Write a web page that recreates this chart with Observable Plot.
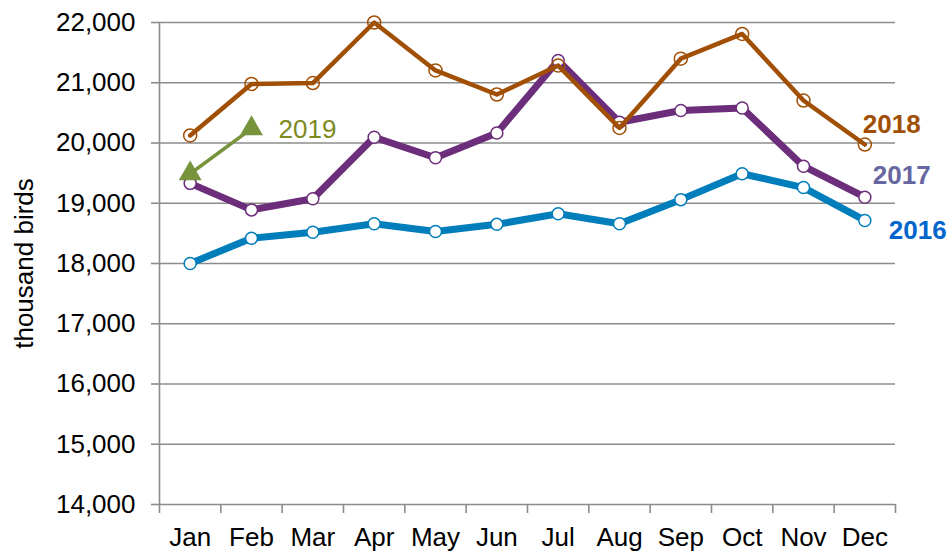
<!DOCTYPE html>
<html>
<head>
<meta charset="utf-8">
<script src="https://cdn.jsdelivr.net/npm/d3@7"></script>
<script src="https://cdn.jsdelivr.net/npm/@observablehq/plot@0.6"></script>
<style>
  html, body { margin: 0; padding: 0; background: #fff; }
  #chart svg { display: block; }
</style>
</head>
<body>
<div id="chart"></div>
<script>
// ---- data ----
const months = ["Jan", "Feb", "Mar", "Apr", "May", "Jun", "Jul", "Aug", "Sep", "Oct", "Nov", "Dec"];
const y2016 = [18000, 18420, 18520, 18660, 18530, 18650, 18825, 18660, 19060, 19490, 19260, 18715];
const y2017 = [19330, 18890, 19075, 20095, 19755, 20165, 21370, 20345, 20540, 20580, 19615, 19100];
const y2018 = [20125, 20980, 20995, 22000, 21205, 20805, 21285, 20250, 21400, 21810, 20705, 19975];
const y2019 = [19490, 20240];
const yTicks = [14000, 15000, 16000, 17000, 18000, 19000, 20000, 21000, 22000];
const yAxisTitle = "thousand birds";

// ---- styling ----
const c16 = "#007dbb", c17 = "#6c2d7a", c18 = "#a04f05", c19 = "#77933c";
const lab16 = "#0066cc", lab17 = "#6667a0", lab18 = "#a04f05", lab19 = "#7d8a1e";
const gridColor = "#8c8c8c";

const rows = (year, vals) => vals.map((v, i) => ({year, i, month: months[i], v}));
const d16 = rows("2016", y2016);
const d17 = rows("2017", y2017);
const d18 = rows("2018", y2018);
const d19 = rows("2019", y2019);
const last = d => [d[d.length - 1]];

const chart = Plot.plot({
  width: 951,
  height: 557,
  marginLeft: 159,
  marginRight: 56,
  marginTop: 22,
  marginBottom: 53,
  style: {fontFamily: "'Liberation Sans', Arial, sans-serif", fontSize: "26px", color: "#000", background: "#fff"},
  x: {domain: [-0.5, 11.5]},
  y: {domain: [14000, 22000]},
  marks: [
    Plot.gridY(yTicks, {stroke: gridColor, strokeOpacity: 1, strokeWidth: 1.6}),
    Plot.ruleX([-0.5], {stroke: gridColor, strokeWidth: 1.6}),
    Plot.axisY(yTicks, {tickSize: 8, tickPadding: 16, tickFormat: d3.format(","), stroke: gridColor, strokeWidth: 1.6, fill: "#000", fontSize: 26, label: null}),
    Plot.axisX(d3.range(-0.5, 12, 1), {tickSize: 9, tickFormat: () => "", stroke: gridColor, strokeWidth: 1.6, label: null}),
    Plot.axisX(d3.range(0, 12), {tickSize: 0, tickPadding: 23, tickFormat: i => months[i], fill: "#000", fontSize: 26, label: null}),
    Plot.text([yAxisTitle], {frameAnchor: "left", text: d => d, rotate: -90, textAnchor: "middle", dx: -135, fill: "#000", fontSize: 26}),

    Plot.line(d16, {x: "i", y: "v", stroke: c16, strokeWidth: 7, strokeLinejoin: "round"}),
    Plot.dot(d16, {x: "i", y: "v", r: 6, fill: "#fff", stroke: c16, strokeWidth: 1.5}),

    Plot.line(d17, {x: "i", y: "v", stroke: c17, strokeWidth: 7, strokeLinejoin: "round"}),
    Plot.dot(d17, {x: "i", y: "v", r: 6, fill: "#fff", stroke: c17, strokeWidth: 1.5}),

    Plot.line(d18, {x: "i", y: "v", stroke: c18, strokeWidth: 4.5, strokeLinejoin: "round"}),
    Plot.dot(d18, {x: "i", y: "v", r: 6.5, fill: "none", stroke: c18, strokeWidth: 1.5}),

    Plot.line(d19, {x: "i", y: "v", stroke: c19, strokeWidth: 3.5}),
    Plot.dot(d19, {x: "i", y: "v", symbol: "triangle", r: 8.5, fill: c19}),

    Plot.text(last(d18), {x: "i", y: "v", text: "year", dx: -2, dy: -20, textAnchor: "start", fill: lab18, fontWeight: "bold", fontSize: 26}),
    Plot.text(last(d17), {x: "i", y: "v", text: "year", dx: 8, dy: -22, textAnchor: "start", fill: lab17, fontWeight: "bold", fontSize: 26}),
    Plot.text(last(d16), {x: "i", y: "v", text: "year", dx: 24, dy: 10, textAnchor: "start", fill: lab16, fontWeight: "bold", fontSize: 26}),
    Plot.text(last(d19), {x: "i", y: "v", text: "year", dx: 27, dy: 1, textAnchor: "start", fill: lab19, fontSize: 26})
  ]
});
document.getElementById("chart").appendChild(chart);
</script>
</body>
</html>
